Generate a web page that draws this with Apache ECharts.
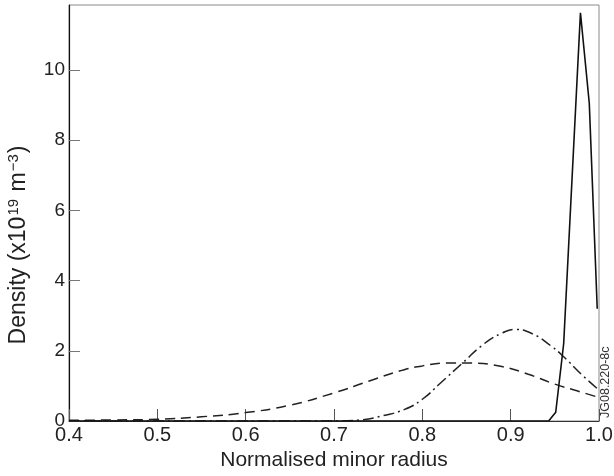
<!DOCTYPE html>
<html>
<head>
<meta charset="utf-8">
<script src="https://cdn.jsdelivr.net/npm/echarts@6/dist/echarts.min.js"></script>
<style>
  html, body { margin: 0; padding: 0; background: #fff; }
  #chart { width: 614px; height: 476px; }
</style>
</head>
<body>
<div id="chart"></div>
<script>
// values
var xTicks = [0.4, 0.5, 0.6, 0.7, 0.8, 0.9, 1.0]
var yTicks = [0, 2, 4, 6, 8, 10]

var solidR = [0.40, 0.943, 0.951, 0.960, 0.979, 0.989, 0.998]
var solidN = [0, 0, 0.25, 2.2, 11.63, 9.05, 3.2]

var dashR = [0.40, 0.45, 0.50, 0.55, 0.60, 0.65, 0.70, 0.74, 0.775, 0.80, 0.83, 0.855, 0.89, 0.92, 0.95, 0.975, 1.00]
var dashN = [0.02, 0.03, 0.05, 0.12, 0.24, 0.45, 0.80, 1.14, 1.43, 1.57, 1.65, 1.65, 1.55, 1.33, 1.05, 0.86, 0.67]

var dotR = [0.40, 0.70, 0.73, 0.755, 0.78, 0.80, 0.82, 0.845, 0.87, 0.89, 0.905, 0.925, 0.945, 0.96, 0.98, 1.00]
var dotN = [0, 0, 0.03, 0.15, 0.33, 0.62, 1.07, 1.64, 2.2, 2.5, 2.61, 2.48, 2.15, 1.83, 1.33, 0.88]

function pairs (xs, ys) {
  return xs.map(function (x, i) { return [x, ys[i]] })
}

var chart = echarts.init(document.getElementById('chart'))
var font = 'Liberation Sans, Arial, sans-serif'

chart.setOption({
  backgroundColor: '#fff',
  animation: false,
  grid: {
    left: 69,
    right: 15,
    top: 5,
    bottom: 55,
    outerBoundsMode: 'none',
    show: true,
    borderColor: '#8a8a8a',
    borderWidth: 1
  },
  xAxis: {
    type: 'value',
    min: 0.4,
    max: 1.0,
    interval: 0.1,
    name: 'Normalised minor radius',
    nameLocation: 'middle',
    nameGap: 28,
    nameTextStyle: { color: '#222', fontSize: 21, fontFamily: font },
    axisLine: { show: true, lineStyle: { color: '#333', width: 1.2 } },
    axisTick: { show: true, inside: true, length: 12, lineStyle: { color: '#555' } },
    splitLine: { show: false },
    axisLabel: {
      color: '#222',
      fontSize: 20,
      fontFamily: font,
      margin: 4,
      formatter: function (v) { return v.toFixed(1) }
    }
  },
  yAxis: {
    type: 'value',
    min: 0,
    max: 11.85,
    interval: 2,
    name: '{t|Density (x10}{s|19}{t| m}{s|−3}{t|)}',
    nameLocation: 'middle',
    nameGap: 38,
    nameTextStyle: {
      padding: [0, 64, 0, 0],
      rich: {
        t: { color: '#222', fontSize: 23, fontFamily: font },
        s: { color: '#222', fontSize: 15, fontFamily: font, verticalAlign: 'top', padding: [0, 1, 10, 1] }
      }
    },
    axisLine: { show: true, lineStyle: { color: '#111', width: 1.2 } },
    axisTick: { show: true, inside: true, length: 11, lineStyle: { color: '#777' } },
    splitLine: { show: false },
    axisLabel: {
      color: '#222',
      fontSize: 19,
      fontFamily: font,
      margin: 4,
      showMaxLabel: false
    }
  },
  graphic: [{
    type: 'text',
    x: 606,
    y: 418,
    rotation: Math.PI / 2,
    style: {
      text: 'JG08.220-8c',
      fill: '#333',
      fontSize: 12.5,
      fontFamily: font,
      textAlign: 'left',
      textVerticalAlign: 'middle'
    }
  }],
  series: [{
    name: 'dashed',
    type: 'line',
    smooth: true,
    showSymbol: false,
    data: pairs(dashR, dashN),
    lineStyle: { color: '#222', width: 1.5, type: [10, 6] }
  }, {
    name: 'dashdot',
    type: 'line',
    smooth: true,
    showSymbol: false,
    data: pairs(dotR, dotN),
    lineStyle: { color: '#222', width: 1.5, type: [11, 4, 2, 4] }
  }, {
    name: 'solid',
    type: 'line',
    showSymbol: false,
    data: pairs(solidR, solidN),
    lineStyle: { color: '#111', width: 1.6 }
  }]
})
</script>
</body>
</html>
